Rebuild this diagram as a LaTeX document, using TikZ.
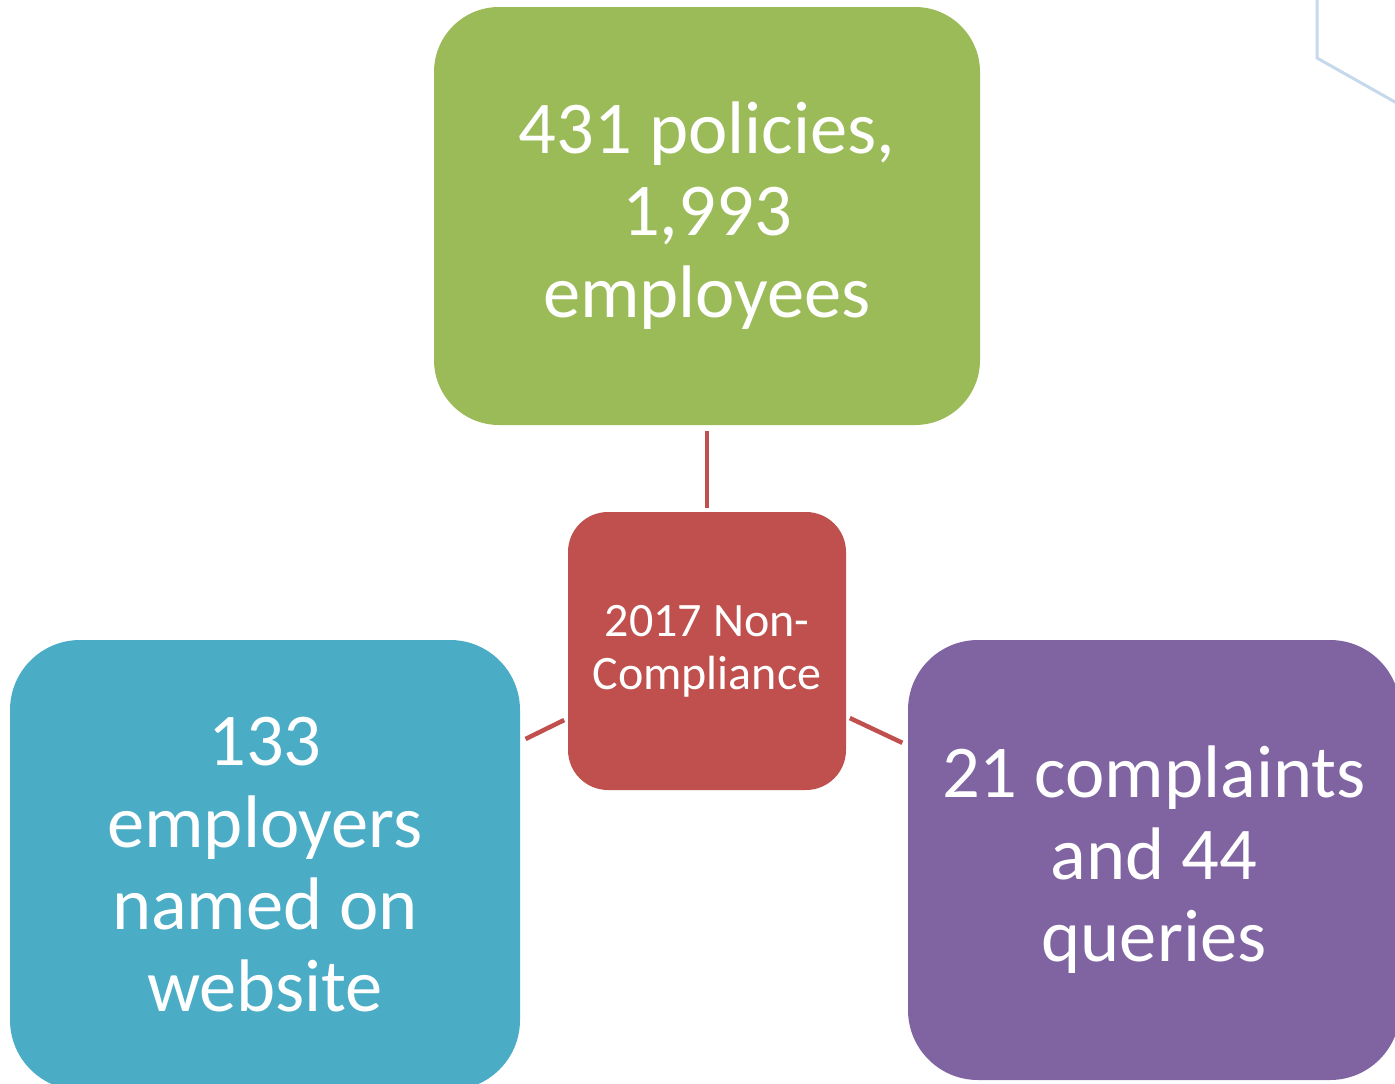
\documentclass[tikz,border=0pt]{standalone}
\usepackage{fontspec}
\setmainfont{Carlito}
\definecolor{boxgreen}{HTML}{9BBB59}
\definecolor{boxred}{HTML}{C0504D}
\definecolor{boxblue}{HTML}{4BACC6}
\definecolor{boxpurple}{HTML}{8064A2}
\definecolor{edgeblue}{HTML}{C6D9EC}
\tikzset{
  box/.style={rectangle,text=white,align=center,inner sep=0pt},
  bigtext/.style={font=\fontsize{74.5}{82}\selectfont},
  link/.style={draw=boxred,line width=4.5pt}
}
\begin{document}
\begin{tikzpicture}[x=1pt,y=-1pt]
 \useasboundingbox (0,0) rectangle (1395,1084);
 \clip (0,0) rectangle (1395,1084);
 \draw[edgeblue,line width=3pt](1317,-5)--(1317,58)--(1402,106);
 \node[box,bigtext,fill=boxgreen,rounded corners=65pt,minimum width=546pt,minimum height=418pt] (policies) at (707,216) {431 policies,\\1,993\\employees};
 \node[box,fill=boxred,rounded corners=40pt,minimum width=278pt,minimum height=278pt,font=\fontsize{48}{53}\selectfont] (core) at (707,651) {2017 Non-\\Compliance};
 \node[box,bigtext,fill=boxblue,rounded corners=70pt,minimum width=510pt,minimum height=450pt] (named) at (265,865) {133\\employers\\named on\\website};
 \node[box,bigtext,fill=boxpurple,rounded corners=70pt,minimum width=492pt,minimum height=440pt] (complaints) at (1154,860) {21 complaints\\and 44\\queries};
 \draw[link,shorten <=6pt,shorten >=4pt] (policies) -- (core);
 \draw[link,shorten <=6pt,shorten >=4pt] (named) -- (core);
 \draw[link,shorten <=4pt,shorten >=6pt] (core) -- (complaints);
\end{tikzpicture}
\end{document}
